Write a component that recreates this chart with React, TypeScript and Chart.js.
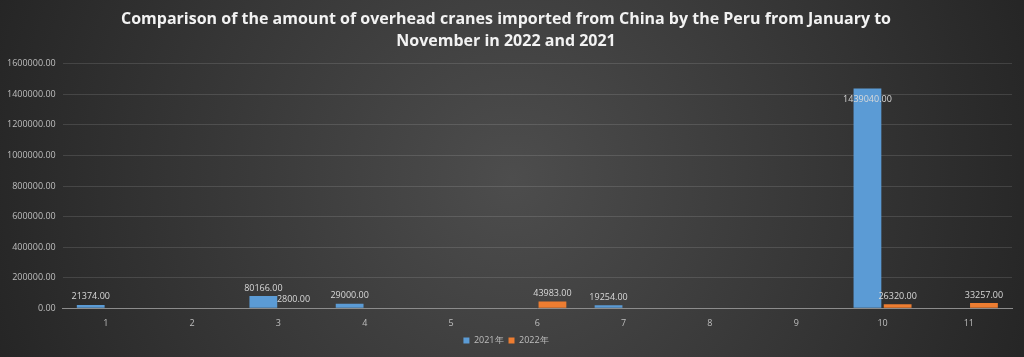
import React, { useEffect, useRef } from "react";
import { Chart, registerables } from "chart.js";

Chart.register(...registerables);

const categories = ["1", "2", "3", "4", "5", "6", "7", "8", "9", "10", "11"];
const values2021: (number | null)[] = [21374, null, 80166, 29000, null, null, 19254, null, null, 1439040, null];
const values2022: (number | null)[] = [null, null, 2800, null, null, 43983, null, null, null, 26320, 33257];
const seriesNames = ["2021年", "2022年"];
const titleLines = [
  "Comparison of the amount of overhead cranes imported from China by the Peru from January to",
  "November in 2022 and 2021",
];

const bgPlugin = {
  id: "bg",
  beforeDraw(chart: any) {
    const { ctx, width, height } = chart;
    ctx.save();
    const g = ctx.createRadialGradient(width / 2, height / 2, 0, width / 2, height / 2, width * 0.55);
    g.addColorStop(0, "#4d4d4d");
    g.addColorStop(1, "#242424");
    ctx.fillStyle = g;
    ctx.fillRect(0, 0, width, height);
    ctx.restore();
  },
};

const labelPlugin = {
  id: "valLabels",
  afterDatasetsDraw(chart: any) {
    const { ctx } = chart;
    ctx.save();
    ctx.font = "9px 'Open Sans', sans-serif";
    ctx.fillStyle = "#d9d9d9";
    ctx.textAlign = "center";
    ctx.textBaseline = "middle";
    chart.data.datasets.forEach((ds: any, i: number) => {
      const meta = chart.getDatasetMeta(i);
      meta.data.forEach((bar: any, j: number) => {
        const v = ds.data[j];
        if (v == null) return;
        const h = bar.base - bar.y;
        const y = h > 100 ? bar.y + 11 : bar.y - 8;
        ctx.fillText(Number(v).toFixed(2), bar.x, y);
      });
    });
    ctx.restore();
  },
};

export default function App() {
  const ref = useRef<HTMLCanvasElement>(null);
  useEffect(() => {
    document.body.style.margin = "0";
    const chart = new Chart(ref.current!, {
      type: "bar",
      data: {
        labels: categories,
        datasets: [
          {
            label: seriesNames[0],
            data: values2021,
            backgroundColor: "#5b9bd5",
            categoryPercentage: 0.7,
            barPercentage: 0.92,
          },
          {
            label: seriesNames[1],
            data: values2022,
            backgroundColor: "#ed7d31",
            categoryPercentage: 0.7,
            barPercentage: 0.92,
          },
        ],
      },
      options: {
        animation: false,
        responsive: false,
        maintainAspectRatio: false,
        layout: { padding: { left: 0, right: 12, top: 0, bottom: 2 } },
        plugins: {
          title: {
            display: true,
            text: titleLines,
            color: "#f2f2f2",
            font: { family: "'Open Sans', sans-serif", size: 16, weight: "bold", lineHeight: 1.4 },
            padding: { top: 8, bottom: 11 },
          },
          legend: {
            position: "bottom",
            labels: {
              color: "#bfbfbf",
              font: { family: "'Open Sans', sans-serif", size: 9 },
              boxWidth: 6,
              boxHeight: 6,
              padding: 5,
            },
          },
          tooltip: { enabled: false },
        },
        scales: {
          x: {
            grid: { display: false },
            border: { color: "#8c8c8c" },
            ticks: { color: "#bfbfbf", font: { family: "'Open Sans', sans-serif", size: 9 }, padding: 2 },
          },
          y: {
            min: 0,
            max: 1600000,
            ticks: {
              stepSize: 200000,
              color: "#bfbfbf",
              font: { family: "'Open Sans', sans-serif", size: 9 },
              callback: (v: any) => Number(v).toFixed(2),
              padding: 7,
            },
            grid: { color: "rgba(255,255,255,0.12)", drawTicks: false },
            border: { display: false },
          },
        },
      },
      plugins: [bgPlugin, labelPlugin],
    });
    return () => chart.destroy();
  }, []);
  return (
    <div style={{ width: 1024, height: 357 }}>
      <canvas ref={ref} width={1024} height={357} style={{ display: "block" }} />
    </div>
  );
}
